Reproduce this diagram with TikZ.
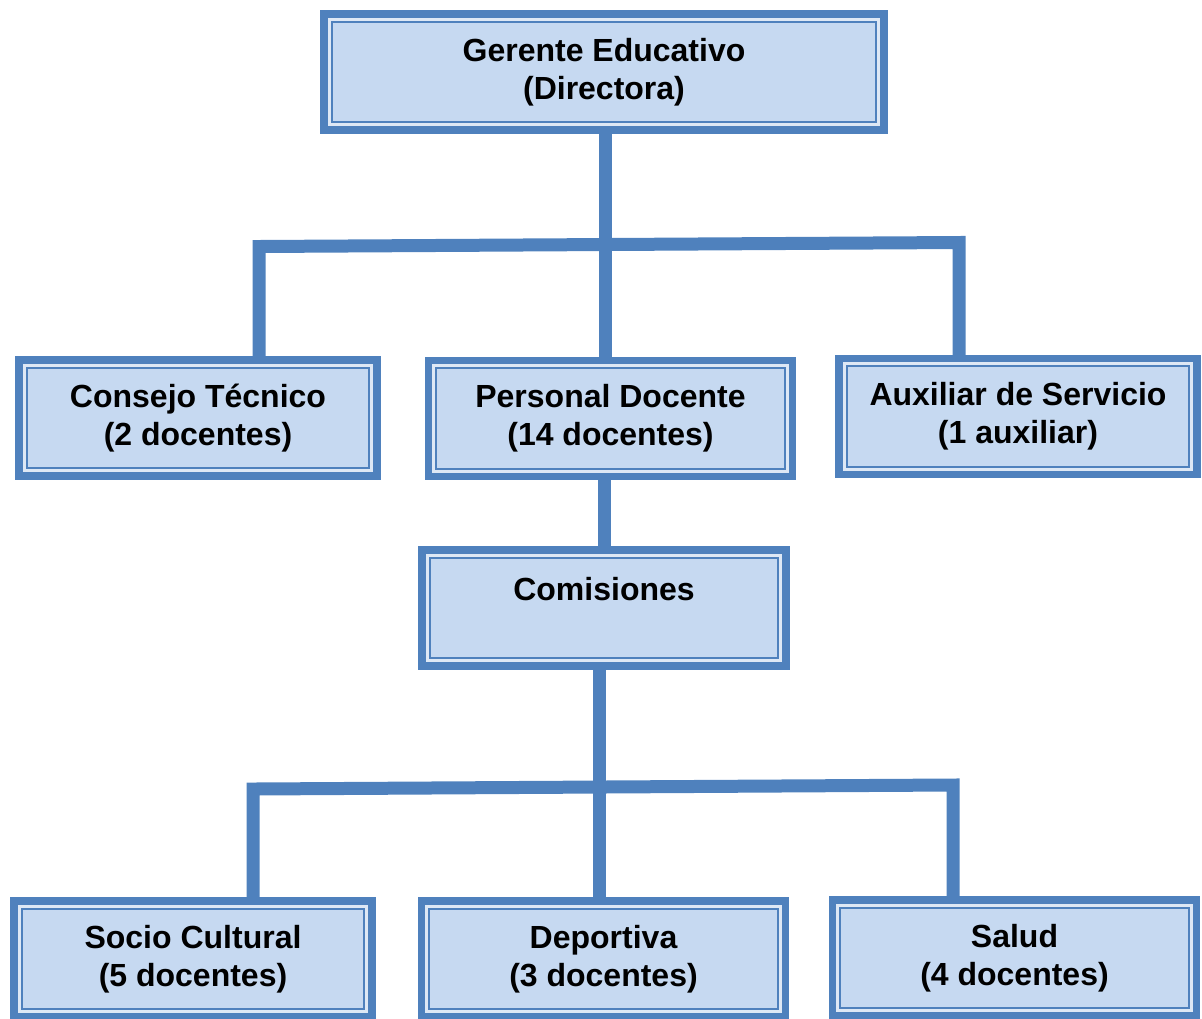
\documentclass[tikz,border=0pt]{standalone}
\usepackage{fontspec}
\setmainfont{Liberation Sans}

\definecolor{orgblue}{RGB}{79,129,189}
\definecolor{orgfill}{RGB}{198,217,241}
\definecolor{orggap}{RGB}{222,232,245}

\tikzset{
	orgbox/.style={draw=orgblue, line width=3.75pt, fill=orggap, align=center,
		font=\fontsize{16}{19}\selectfont\bfseries, minimum height=58pt, inner sep=0pt,
		path picture={\draw[orgblue, line width=1pt, fill=orgfill]
			([shift={(3.9pt,3.9pt)}]path picture bounding box.south west) rectangle
			([shift={(-3.9pt,-3.9pt)}]path picture bounding box.north east);}},
	link/.style={draw=orgblue, line width=6.5pt, line join=miter}
}

\begin{document}
\begin{tikzpicture}[x=0.5pt, y=-0.5pt]
		\useasboundingbox (0,0) rectangle (1202,1018);

		\node[orgbox, minimum width=280pt] (gerente) at (604,72) {Gerente Educativo\\(Directora)};
		\node[orgbox, minimum width=179pt] (consejo) at (198,418) {Consejo Técnico\\(2 docentes)};
		\node[orgbox, minimum width=182pt] (personal) at (610.5,418.5) {Personal Docente\\(14 docentes)};
		\node[orgbox, minimum width=179pt] (auxiliar) at (1018,416.5) {Auxiliar de Servicio\\(1 auxiliar)};
		\node[orgbox, minimum width=182pt] (comisiones) at (604,608) {Comisiones\\\mbox{}};
		\node[orgbox, minimum width=179pt] (socio) at (193,959) {Socio Cultural\\(5 docentes)};
		\node[orgbox, minimum width=182pt] (deportiva) at (603.5,959) {Deportiva\\(3 docentes)};
		\node[orgbox, minimum width=182pt] (salud) at (1014.5,958) {Salud\\(4 docentes)};

		\coordinate (j0) at (605,244.5);
		\coordinate (j1) at (259,246.5);
		\coordinate (j2) at (959,242.5);
		\coordinate (k0) at (599,787);
		\coordinate (k1) at (253,789);
		\coordinate (k2) at (953,785);

		\draw[link] (j0 |- gerente.south) -- (j0 |- personal.north);
		\draw[link] (consejo.north -| j1) -- (j1) -- (j2) -- (auxiliar.north -| j2);

		\draw[link] (comisiones.north |- personal.south) -- (comisiones.north);

		\draw[link] (k0 |- comisiones.south) -- (k0 |- deportiva.north);
		\draw[link] (socio.north -| k1) -- (k1) -- (k2) -- (salud.north -| k2);
	\end{tikzpicture}
\end{document}
